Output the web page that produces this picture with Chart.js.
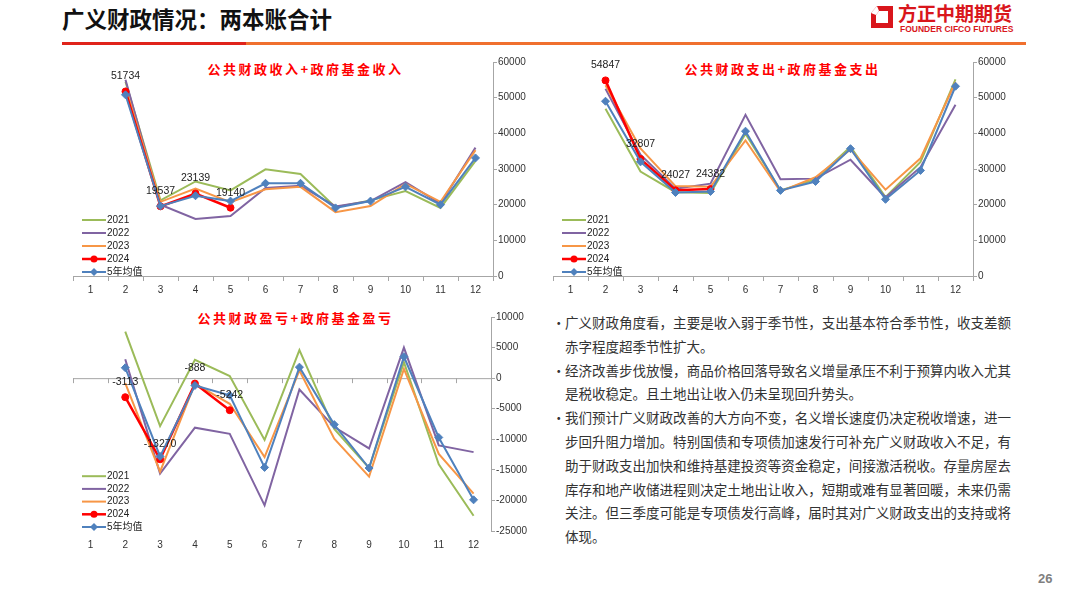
<!DOCTYPE html>
<html>
<head>
<meta charset="utf-8">
<script src="https://cdn.jsdelivr.net/npm/chart.js@4.4.1/dist/chart.umd.min.js"></script>
<style>
  body { margin: 0; width: 1080px; height: 608px; background: #fff; position: relative; overflow: hidden;
         font-family: "Noto Sans CJK SC", sans-serif; }
  .abs { position: absolute; }
  #head { left: 62px; top: 4px; font-size: 22.5px; font-weight: bold; color: #111; line-height: 28px; white-space: nowrap; }
  #bar1 { left: 62px; top: 42px; width: 184px; height: 3px; background: #e0231b; }
  #bar2 { left: 246px; top: 42px; width: 780px; height: 3px; background: #f0702e; }
  #logoCn { left: 898px; top: 3px; font-size: 19px; font-weight: bold; color: #d9161c; line-height: 20px; white-space: nowrap; }
  #logoEn { left: 900px; top: 24px; font-family: "Liberation Sans", sans-serif; font-size: 8.5px; font-weight: bold;
            color: #d9161c; line-height: 10px; white-space: nowrap; }
  #page { left: 1038px; top: 571px; font-family: "Liberation Sans", sans-serif; font-size: 13px; font-weight: bold; color: #7f7f7f; }
  .ctitle { width: 300px; text-align: center; font-size: 13px; font-weight: bold; color: #ff0000;
            letter-spacing: 2.5px; padding-left: 2.5px; line-height: 16px; white-space: nowrap; }
  canvas { position: absolute; }
  #txt { left: 565px; top: 311px; width: 446px; font-size: 13.5px; line-height: 23.8px; color: #333; }
  .p { position: relative; }
  .b { position: absolute; left: -13px; top: 0; }
  .l { white-space: nowrap; }
  .j { text-align: justify; text-align-last: justify; }
</style>
</head>
<body>
<div id="head" class="abs">广义财政情况：两本账合计</div>
<div id="bar1" class="abs"></div>
<div id="bar2" class="abs"></div>
<svg class="abs" style="left:870px;top:5px" width="24" height="24" viewBox="0 0 24 24">
  <path d="M7 1 H23 V23 H1 V8 Z" fill="#d9161c"/>
  <path d="M9 6 H18 V18 H6 V10 Z" fill="#fff"/>
  <path d="M1 8 L7 1 L9 6 L6 10 Z" fill="#fff"/>
</svg>
<div id="logoCn" class="abs">方正中期期货</div>
<div id="logoEn" class="abs">FOUNDER CIFCO FUTURES</div>

<div class="abs ctitle" style="left:153px;top:61px">公共财政收入+政府基金收入</div>
<div class="abs ctitle" style="left:630px;top:61px">公共财政支出+政府基金支出</div>
<div class="abs ctitle" style="left:143px;top:310px">公共财政盈亏+政府基金盈亏</div>

<canvas id="incomeChart" width="490" height="250" style="left:60px;top:50px"></canvas>
<canvas id="spendChart" width="490" height="250" style="left:540px;top:50px"></canvas>
<canvas id="balanceChart" width="490" height="255" style="left:60px;top:300px"></canvas>

<div id="txt" class="abs">
  <div class="p"><span class="b">•</span>
    <div class="l j">广义财政角度看，主要是收入弱于季节性，支出基本符合季节性，收支差额</div>
    <div class="l">赤字程度超季节性扩大。</div>
  </div>
  <div class="p"><span class="b">•</span>
    <div class="l j">经济改善步伐放慢，商品价格回落导致名义增量承压不利于预算内收入尤其</div>
    <div class="l">是税收稳定。且土地出让收入仍未呈现回升势头。</div>
  </div>
  <div class="p"><span class="b">•</span>
    <div class="l j">我们预计广义财政改善的大方向不变，名义增长速度仍决定税收增速，进一</div>
    <div class="l j">步回升阻力增加。特别国债和专项债加速发行可补充广义财政收入不足，有</div>
    <div class="l j">助于财政支出加快和维持基建投资等资金稳定，间接激活税收。存量房屋去</div>
    <div class="l j">库存和地产收储进程则决定土地出让收入，短期或难有显著回暖，未来仍需</div>
    <div class="l j">关注。但三季度可能是专项债发行高峰，届时其对广义财政支出的支持或将</div>
    <div class="l">体现。</div>
  </div>
</div>
<div id="page" class="abs">26</div>

<script>
const months = ['1', '2', '3', '4', '5', '6', '7', '8', '9', '10', '11', '12'];
const seriesNames = ['2021', '2022', '2023', '2024', '5年均值'];
const seriesColors = ['#9BBB59', '#8064A2', '#F79646', '#FF0000', '#4F81BD'];

// 收入（公共财政+政府基金），亿元
const inc2021 = [null, 54500, 21200, 26500, 24000, 29900, 28600, 19300, 21200, 23800, 19100, 32300];
const inc2022 = [null, 55000, 20000, 16000, 16800, 24700, 25300, 19500, 21000, 26300, 20300, 36000];
const inc2023 = [null, 52800, 20800, 24500, 20700, 24300, 25000, 17900, 19600, 25800, 20800, 35300];
const inc2024 = [null, 51734, 19537, 23139, 19140, null, null, null, null, null, null, null];
const incAvg  = [null, 50800, 19600, 22500, 21000, 26000, 26000, 19100, 21000, 25000, 20000, 33100];

// 支出
const exp2021 = [null, 46900, 29300, 23500, 23300, 39900, 24000, 27100, 36200, 22100, 32000, 55100];
const exp2022 = [null, 52500, 34000, 24500, 25900, 45200, 27100, 27300, 32600, 22000, 30500, 48000];
const exp2023 = [null, 53500, 35800, 25200, 25000, 38000, 23700, 27700, 35500, 24200, 33000, 54400];
const exp2024 = [null, 54847, 32807, 24027, 24382, null, null, null, null, null, null, null];
const expAvg  = [null, 49000, 32000, 23400, 23700, 40600, 24000, 26500, 35700, 21500, 29600, 53200];

// 盈亏
const bal2021 = [null, 7600, -7850, 3000, 330, -10100, 4600, -8300, -14700, 2600, -14100, -22500];
const bal2022 = [null, 3100, -15600, -8100, -9100, -20800, -1850, -8000, -11500, 5000, -11000, -12100];
const bal2023 = [null, -800, -15300, -900, -4200, -12900, 1250, -9900, -16100, 1500, -12400, -18900];
const bal2024 = [null, -3113, -13270, -888, -5242, null, null, null, null, null, null, null];
const balAvg  = [null, 1700, -12800, -1200, -2800, -14600, 1800, -7600, -14700, 3500, -9700, -19900];

// y axis ranges
const flowAxis = { min: 0, max: 60000, step: 10000 };
const balAxis = { min: -25000, max: 10000, step: 5000 };

Chart.defaults.font.family = '"Liberation Sans", "Noto Sans CJK SC", sans-serif';
Chart.defaults.font.size = 10;
Chart.defaults.color = '#333';

function drawMarker(ctx, style, x, y, r, color) {
    ctx.save();
    ctx.fillStyle = color;
    ctx.beginPath();
    if (style === 'circle') {
        ctx.arc(x, y, r, 0, Math.PI * 2);
    } else {
        ctx.moveTo(x, y - r);
        ctx.lineTo(x + r, y);
        ctx.lineTo(x, y + r);
        ctx.lineTo(x - r, y);
        ctx.closePath();
    }
    ctx.fill();
    ctx.restore();
}

// value labels above the 2024 points
const valueLabels = {
    id: 'valueLabels',
    afterDatasetsDraw(chart) {
        const ctx = chart.ctx;
        chart.data.datasets.forEach((ds, i) => {
            if (ds.label !== '2024') return;
            const meta = chart.getDatasetMeta(i);
            ctx.save();
            ctx.font = '10.5px "Liberation Sans", sans-serif';
            ctx.fillStyle = '#222';
            ctx.textAlign = 'center';
            ctx.textBaseline = 'middle';
            meta.data.forEach((pt, j) => {
                const v = ds.data[j];
                if (v == null) return;
                ctx.fillText(String(v), pt.x, pt.y - 15);
            });
            ctx.restore();
        });
    }
};

// legend in the lower left corner of the plot
const innerLegend = {
    id: 'innerLegend',
    afterDatasetsDraw(chart, args, opts) {
        const { ctx, chartArea } = chart;
        const sets = chart.data.datasets;
        const gap = opts.gap || 13;
        const x0 = chartArea.left + 9;
        ctx.save();
        ctx.font = '10px "Liberation Sans", "Noto Sans CJK SC", sans-serif';
        ctx.textBaseline = 'middle';
        sets.forEach((ds, i) => {
            const y = chartArea.bottom - 4 - (sets.length - 1 - i) * gap;
            ctx.strokeStyle = ds.borderColor;
            ctx.lineWidth = ds.borderWidth;
            ctx.beginPath();
            ctx.moveTo(x0, y);
            ctx.lineTo(x0 + 24, y);
            ctx.stroke();
            if (ds.pointRadius > 0) drawMarker(ctx, ds.pointStyle, x0 + 12, y, ds.pointRadius, ds.borderColor);
            ctx.fillStyle = '#222';
            ctx.fillText(ds.label, x0 + 25, y);
        });
        ctx.restore();
    }
};

// horizontal zero line with category ticks (balance chart)
const zeroLine = {
    id: 'zeroLine',
    beforeDatasetsDraw(chart, args, opts) {
        if (!opts.enabled) return;
        const { ctx } = chart;
        const x = chart.scales.x;
        const y0 = chart.scales.y.getPixelForValue(0);
        const band = (x.right - x.left) / months.length;
        ctx.save();
        ctx.strokeStyle = '#a6a6a6';
        ctx.lineWidth = 1;
        ctx.beginPath();
        ctx.moveTo(x.left, y0 + 0.5);
        ctx.lineTo(x.right, y0 + 0.5);
        for (let i = 0; i <= months.length; i++) {
            const px = Math.round(x.left + i * band) + 0.5;
            ctx.moveTo(px, y0);
            ctx.lineTo(px, y0 + 5);
        }
        ctx.stroke();
        ctx.restore();
    }
};

function buildSets(values) {
    return values.map((data, i) => {
        const isNow = seriesNames[i] === '2024';
        const isAvg = seriesNames[i] === '5年均值';
        return {
            label: seriesNames[i],
            data,
            borderColor: seriesColors[i],
            backgroundColor: seriesColors[i],
            borderWidth: isNow ? 2.5 : 2,
            pointRadius: isNow ? 3.5 : (isAvg ? 4 : 0),
            pointStyle: isNow ? 'circle' : 'rectRot',
            pointBorderWidth: 1,
            tension: 0,
            order: values.length - i
        };
    });
}

function initFlowChart(id, values, axis, pad, zero) {
    const el = document.getElementById(id);
    if (!el) return;

    new Chart(el, {
        type: 'line',
        data: { labels: months, datasets: buildSets(values) },
        plugins: [zeroLine, valueLabels, innerLegend],
        options: {
            responsive: false,
            animation: false,
            events: [],
            layout: { padding: pad },
            plugins: {
                legend: { display: false },
                tooltip: { enabled: false },
                innerLegend: { gap: zero ? 12.7 : 13 },
                zeroLine: { enabled: zero }
            },
            scales: {
                x: {
                    offset: true,
                    grid: zero ? { display: false, drawTicks: false } :
                        { display: true, offset: true, drawOnChartArea: false, tickLength: 5, color: '#a6a6a6' },
                    border: { display: !zero, color: '#a6a6a6' },
                    ticks: { padding: zero ? 8 : 3, maxRotation: 0, autoSkip: false },
                    afterFit: s => { s.height = 22; }
                },
                y: {
                    position: 'right',
                    min: axis.min,
                    max: axis.max,
                    grid: { display: true, drawOnChartArea: false, tickLength: 4, color: '#a6a6a6' },
                    border: { display: true, color: '#a6a6a6' },
                    ticks: { stepSize: axis.step, padding: 1, callback: v => String(v) },
                    afterFit: s => { s.width = 45; }
                }
            }
        }
    });
}

document.addEventListener('DOMContentLoaded', () => {
    initFlowChart('incomeChart', [inc2021, inc2022, inc2023, inc2024, incAvg], flowAxis,
        { left: 13, right: 12, top: 12, bottom: 2 }, false);
    initFlowChart('spendChart', [exp2021, exp2022, exp2023, exp2024, expAvg], flowAxis,
        { left: 13, right: 12, top: 12, bottom: 2 }, false);
    initFlowChart('balanceChart', [bal2021, bal2022, bal2023, bal2024, balAvg], balAxis,
        { left: 13, right: 14, top: 17, bottom: 2 }, true);
});
</script>
</body>
</html>
